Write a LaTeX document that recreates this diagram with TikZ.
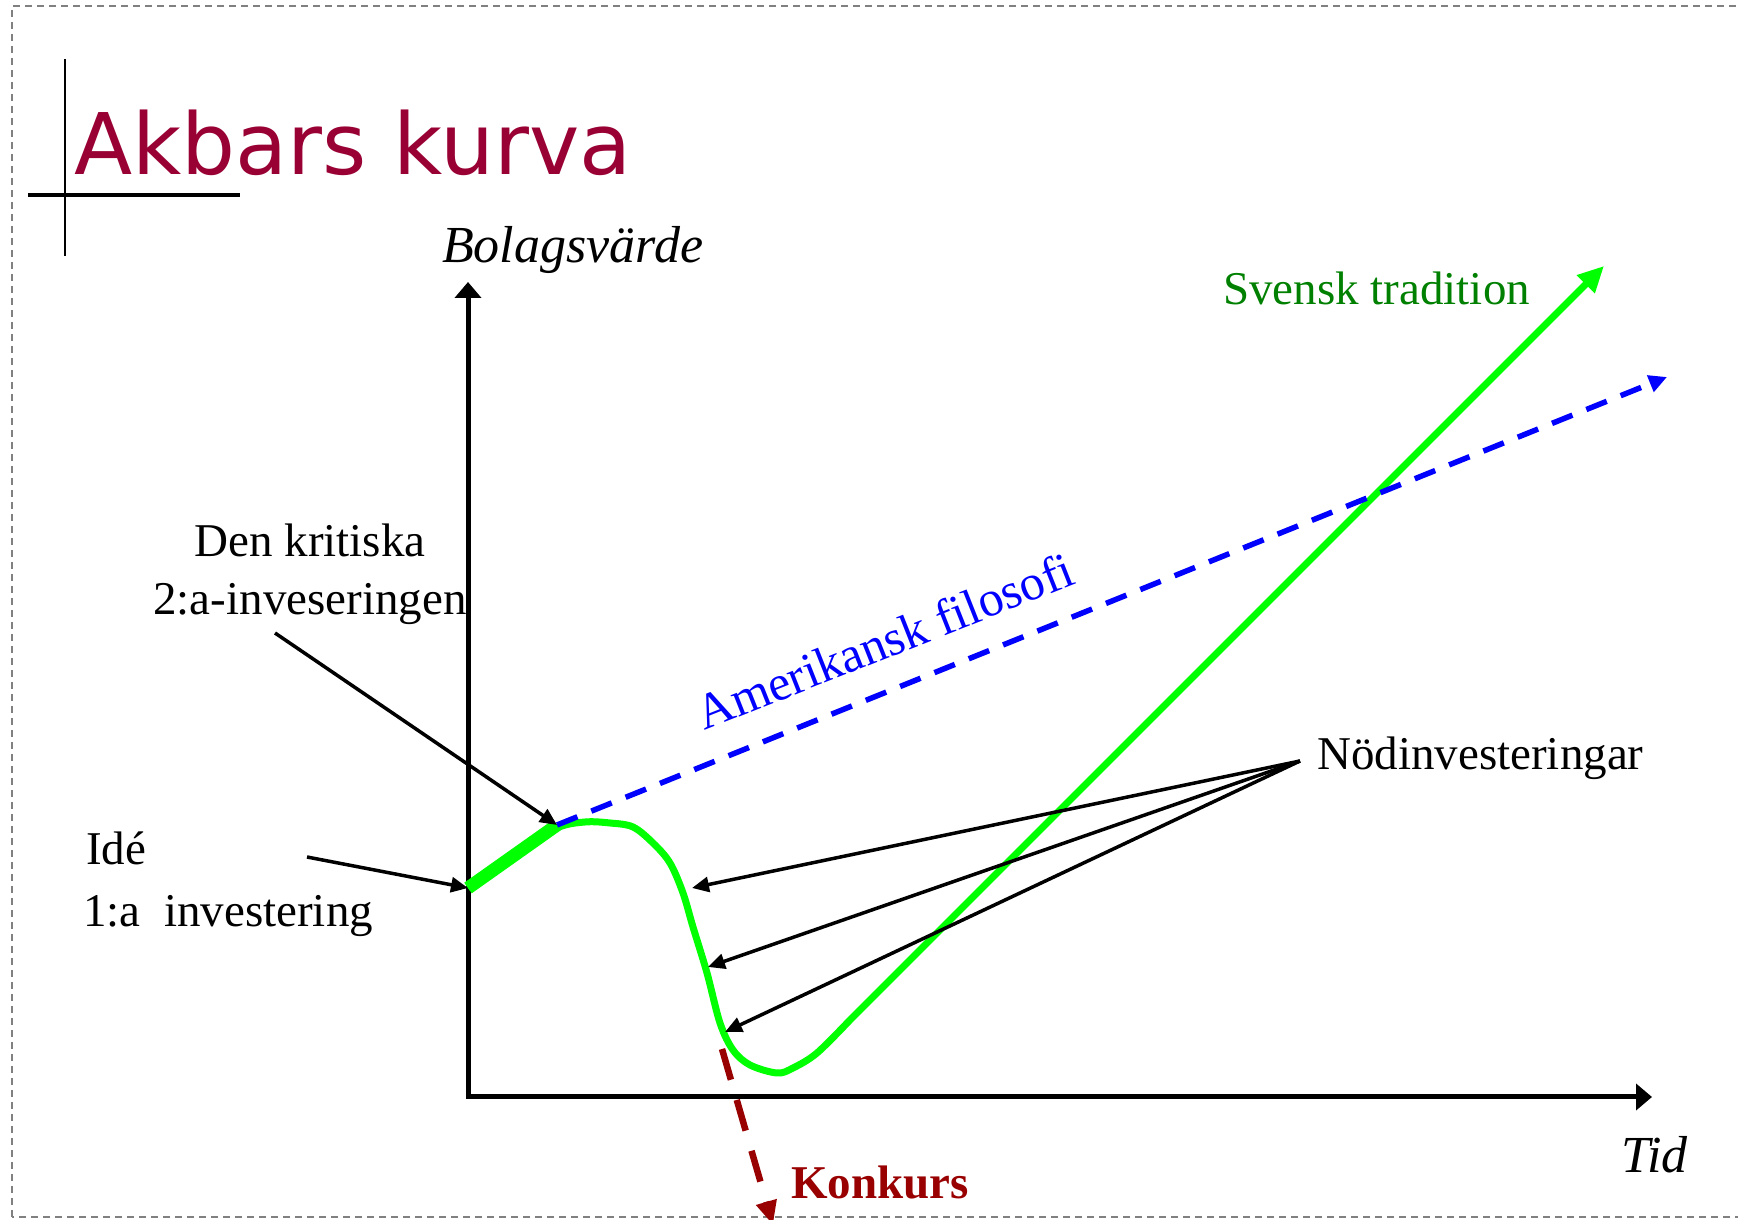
\documentclass[tikz,border=0pt]{standalone}
\usepackage{fontspec}
\setmainfont{Liberation Serif}
\newfontfamily\titlefont{DejaVu Sans}
\usepackage{tikz}
\usetikzlibrary{positioning,arrows.meta}
\definecolor{titlered}{RGB}{153,0,51}
\definecolor{curvegreen}{RGB}{0,255,0}
\definecolor{textgreen}{RGB}{0,128,0}
\definecolor{bankrupt}{RGB}{153,0,0}

\begin{document}
\begin{tikzpicture}[x=1pt,y=1pt,
		lbl/.style={inner sep=0pt, font=\fontsize{47}{56}\selectfont},
		axlbl/.style={inner sep=0pt, font=\fontsize{52}{60}\selectfont\itshape},
		pointer/.style={line width=3.5pt, -{Triangle[length=17pt,width=15pt]}},
		axis/.style={line width=5pt, line join=miter, {Triangle[length=16pt,width=26pt]}-{Triangle[length=16pt,width=26pt]}}]
		\useasboundingbox (0,0) rectangle (1738,1220);
		\draw[gray, line width=1.5pt, dash pattern=on 7pt off 5pt] (12,3) rectangle (1760,1214);
		
		% title with cross
		\draw[line width=2pt] (65,964) -- (65,1161);
		\draw[line width=3.5pt] (28,1025) -- (240,1025);
		\node[anchor=base west, inner sep=0pt, text=titlered, font=\fontsize{85}{90}\titlefont] (title) at (74,1045) {Akbars kurva};
		
		% axes
		\coordinate (O) at (468,123);
		\coordinate (ytop) at (468,938);
		\coordinate (xend) at (1652,123);
		\draw[axis] (ytop) -- (O) -- (xend);
		\node[axlbl, anchor=base west] (value) at (442,957) {Bolagsvärde};
		\node[axlbl, anchor=base west] (time) at (1621,47) {Tid};
		
		% points on the curve
		\coordinate (idea) at (468,332);
		\coordinate (second) at (557,395);
		\coordinate (drop1) at (692,332);
		\coordinate (drop2) at (708,253);
		\coordinate (drop3) at (725,188);
		\coordinate (swetip) at (1604,954);
		\coordinate (usatip) at (1667,843);
		\coordinate (kstart) at (722,171);
		\coordinate (kend) at (773,-5);
		
		% curves
		\draw[curvegreen, line width=7pt, line join=round, -{Triangle[length=26pt,width=24pt]}]
			plot[smooth, tension=0.55] coordinates {(468,332) (520,368) (557,392) (585,398) (610,397) (633,393) (653,377) (670,357) (683,327) (693,293) (707,247) (720,197) (733,170) (750,155) (777,147) (793,152) (817,167) (850,200)} -- (swetip);
		\draw[curvegreen, line width=13pt] (idea) -- (second);
		\draw[blue, line width=5.5pt, dash pattern=on 22pt off 15pt, -{Triangle[length=18pt,width=17pt]}] (second) -- (usatip);
		\draw[bankrupt, line width=6.5pt, dash pattern=on 32pt off 21pt, -{Triangle[length=24pt,width=20pt]}] (kstart) -- (kend);
		
		% labels
		\node[lbl, anchor=base west, text=textgreen] (swe) at (1223,915) {Svensk tradition};
		\node[lbl, font=\fontsize{50}{56}\selectfont, text=blue, rotate=21.6, anchor=base] (usa) at (891,563) {Amerikansk filosofi};
		\node[lbl, anchor=base west, text=bankrupt, font=\fontsize{47}{56}\selectfont\bfseries] (bankr) at (791,21) {Konkurs};
		\node[lbl, anchor=base] (crit) at (310,663) {Den kritiska};
		\node[lbl, anchor=base] (crit2) at ([yshift=-58pt]crit.base) {2:a-inveseringen};
		\node[lbl, anchor=base west] (idealbl) at (86,355) {Idé};
		\node[lbl, anchor=base west] (first) at ([xshift=-3pt,yshift=-62pt]idealbl.base west) {1:a\ \ investering};
		\node[lbl, anchor=base west] (emerg) at (1317,450) {Nödinvesteringar};
		
		% pointers
		\coordinate (critfrom) at (275,587);
		\coordinate (ideafrom) at (307,363);
		\coordinate (emergfrom) at (1300,459);
		\draw[pointer] (critfrom) -- (second);
		\draw[pointer] (ideafrom) -- (idea);
		\foreach \p in {drop1,drop2,drop3}
			\draw[pointer] (emergfrom) -- (\p);
	\end{tikzpicture}
\end{document}
